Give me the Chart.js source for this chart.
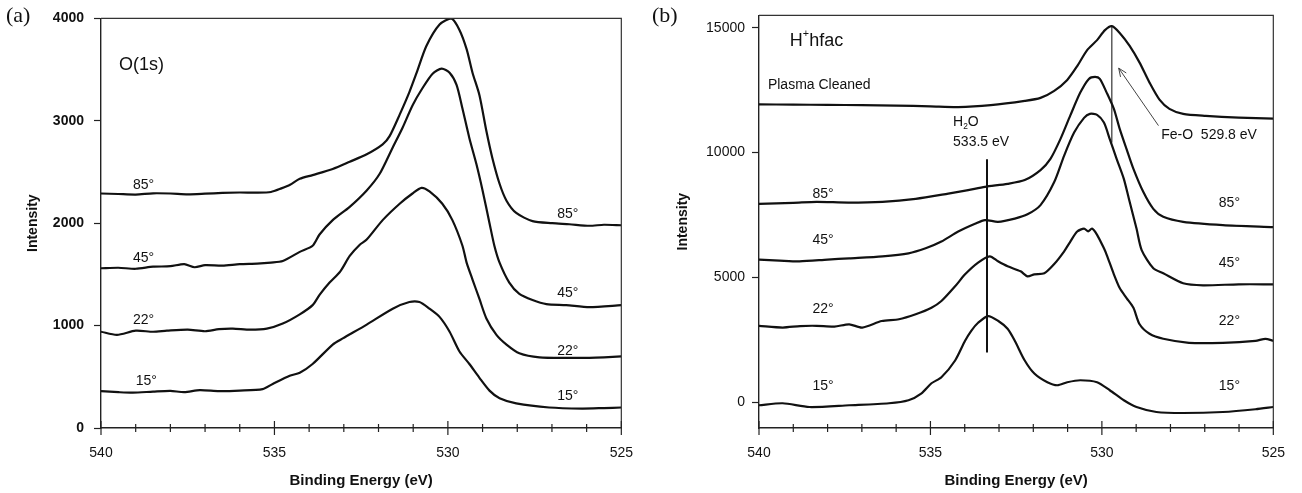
<!DOCTYPE html>
<html>
<head>
<meta charset="utf-8">
<script src="https://cdn.jsdelivr.net/npm/chart.js@4/dist/chart.umd.min.js"></script>
<style>
  html, body { margin: 0; padding: 0; background: #fff; }
  #wrap { position: relative; width: 1302px; height: 493px; }
  canvas { position: absolute; top: 0; }
  #chartA { left: 0; }
  #chartB { left: 650px; }
  .tag { position: absolute; top: 4px; font: 22px "Liberation Serif", "Times New Roman", serif; color: #111; line-height: 1; }
</style>
</head>
<body>
<div id="wrap">
  <canvas id="chartA" width="650" height="493"></canvas>
  <canvas id="chartB" width="652" height="493"></canvas>
  <div class="tag" style="left:6px">(a)</div>
  <div class="tag" style="left:652px">(b)</div>
</div>
<script>
// [binding energy eV, intensity]

// (a) O(1s)
const a85 = [[540,2290],[539.5,2285],[539,2280],[538.5,2292],[538,2290],[537.5,2282],[537,2288],[536.5,2296],[536,2300],[535.5,2298],[535.1,2305],[534.8,2340],[534.55,2375],[534.27,2433],[533.9,2470],[533.32,2530],[532.83,2600],[532.34,2673],[531.88,2770],[531.68,2850],[531.39,3060],[531.11,3280],[530.9,3470],[530.62,3730],[530.24,3940],[529.9,4000],[529.67,3890],[529.46,3700],[529.29,3470],[529.09,3250],[528.89,2900],[528.72,2640],[528.51,2385],[528.31,2220],[528.03,2100],[527.56,2020],[526.99,2000],[526.5,1990],[525.92,1975],[525.5,1985],[525,1980]];
const a45 = [[540,1560],[539.5,1565],[539,1555],[538.5,1575],[538,1580],[537.6,1600],[537.3,1570],[537,1590],[536.5,1585],[536,1600],[535.5,1605],[535.1,1615],[534.76,1630],[534.27,1720],[533.9,1780],[533.7,1890],[533.32,2030],[532.83,2160],[532.34,2320],[531.97,2480],[531.59,2740],[531.31,2930],[531.02,3150],[530.73,3320],[530.44,3460],[530.18,3510],[529.95,3470],[529.75,3350],[529.58,3120],[529.38,2830],[529.18,2580],[529,2320],[528.8,2000],[528.66,1780],[528.51,1615],[528.23,1420],[527.94,1310],[527.56,1250],[527.16,1210],[526.59,1200],[525.92,1180],[525,1200]];
const a22 = [[540,940],[539.54,910],[539,950],[538.5,940],[538.1,950],[537.5,960],[537,945],[536.6,965],[536.2,970],[535.7,960],[535.22,970],[534.76,1020],[534.27,1110],[533.9,1200],[533.7,1300],[533.41,1420],[533.1,1530],[532.83,1680],[532.54,1790],[532.34,1840],[531.88,2030],[531.39,2190],[531.02,2290],[530.76,2345],[530.53,2310],[530.16,2190],[529.87,2030],[529.58,1780],[529.46,1615],[529.29,1450],[529.09,1260],[528.89,1070],[528.6,910],[528.31,815],[527.94,730],[527.36,690],[526.5,685],[525.92,685],[525.5,690],[525,700]];
const a15 = [[540,360],[539.5,350],[539.08,345],[538.5,355],[538,362],[537.6,350],[537.15,370],[536.6,360],[536,365],[535.34,380],[535.05,430],[534.56,510],[534.27,540],[533.9,625],[533.32,815],[533.03,875],[532.34,1010],[531.59,1165],[531.11,1230],[530.82,1230],[530.53,1165],[530.24,1085],[529.95,940],[529.67,750],[529.38,625],[529.09,490],[528.8,365],[528.51,290],[528.03,240],[527.08,200],[526.13,190],[525.5,195],[525,200]];

// (b) H+hfac
const bPlasma = [[540,11930],[539,11920],[538,11910],[537,11900],[536,11880],[535,11850],[534.19,11820],[533.24,11900],[532.25,12070],[531.79,12190],[531.39,12470],[531.01,12910],[530.72,13460],[530.43,14100],[530.14,14500],[529.91,14900],[529.71,15060],[529.48,14790],[529.19,14270],[528.9,13600],[528.61,12800],[528.32,12120],[528.03,11750],[527.63,11550],[526.97,11470],[526.01,11400],[525,11360]];
const b85 = [[540,7950],[539,7990],[538.32,8030],[537.4,8000],[536.4,8030],[535.43,8150],[534.48,8360],[533.9,8500],[533.41,8630],[532.75,8750],[532.25,8900],[531.79,9300],[531.5,9750],[531.21,10540],[530.92,11490],[530.63,12400],[530.38,12950],[530.2,13030],[530.06,12950],[529.86,12400],[529.65,11750],[529.48,10950],[529.28,10140],[529.08,9350],[528.79,8420],[528.5,7750],[528.21,7430],[527.63,7230],[526.47,7100],[525,7020]];
const b45 = [[540,5720],[539.4,5680],[538.82,5650],[538,5720],[537.37,5770],[536.4,5850],[535.64,5970],[535.14,6170],[534.68,6440],[534.19,6840],[533.7,7150],[533.41,7300],[533.03,7230],[532.54,7360],[532.17,7530],[531.79,7900],[531.39,8820],[531.1,9880],[530.81,10800],[530.52,11390],[530.35,11550],[530.14,11510],[529.94,11200],[529.77,10540],[529.57,9750],[529.36,8950],[529.19,8030],[528.99,6960],[528.84,6100],[528.5,5370],[528.21,5170],[527.63,4770],[527.05,4690],[526.01,4730],[525,4730]];
const b22 = [[540,3070],[539.31,3000],[538.8,3060],[538.32,3070],[537.8,3040],[537.37,3130],[536.99,3000],[536.42,3260],[535.92,3330],[535.43,3530],[534.97,3790],[534.68,4060],[534.28,4650],[533.99,5130],[533.61,5600],[533.27,5850],[533.03,5650],[532.75,5450],[532.37,5250],[532.17,5050],[531.97,5130],[531.68,5170],[531.39,5540],[531.1,6050],[530.92,6440],[530.72,6840],[530.52,6960],[530.4,6850],[530.29,6960],[530.14,6710],[529.94,6170],[529.86,5910],[529.65,5130],[529.48,4580],[529.28,4180],[529.08,3790],[528.9,3130],[528.61,2750],[528.21,2550],[527.46,2390],[526.47,2390],[525.52,2470],[525.23,2550],[525,2470]];
const b15 = [[540,-110],[539.31,-30],[538.53,-180],[537.37,-110],[536.21,-30],[535.64,90],[535.26,370],[534.97,770],[534.68,1010],[534.28,1680],[533.99,2470],[533.81,2870],[533.61,3190],[533.32,3460],[533.03,3270],[532.75,2950],[532.54,2470],[532.25,1680],[531.97,1160],[531.59,810],[531.3,690],[531.01,810],[530.63,890],[530.14,810],[529.77,490],[529.36,90],[528.99,-180],[528.41,-380],[527.63,-420],[526.47,-380],[525.52,-270],[525,-180]];

// marker lines in (b)
const waterLine = [[533.35,9730],[533.35,2000]];
const feoLine = [[529.71,15060],[529.71,10400]];

// axes
const energyTicks = [540,539,538,537,536,535,534,533,532,531,530,529,528,527,526,525];
const energyLabels = [540,535,530,525];
const ticksA = [0,1000,2000,3000,4000];
const ticksB = [0,5000,10000,15000];

const FONT = '"Liberation Sans", Arial, Helvetica, sans-serif';
Chart.defaults.font.family = FONT;
Chart.defaults.color = '#111';

function pts(arr) { return arr.map(p => ({x: p[0], y: p[1]})); }

function curve(arr) {
  return { data: pts(arr), borderColor: '#111', borderWidth: 2.2, pointRadius: 0, tension: 0.25, fill: false };
}

// frame, crossing x ticks, arrow and text labels
const decor = {
  id: 'decor',
  afterDatasetsDraw(chart, args, opts) {
    const {ctx, chartArea: a, scales: {x, y}} = chart;
    ctx.save();
    ctx.strokeStyle = '#333';
    ctx.lineWidth = 1.2;
    ctx.beginPath();
    ctx.moveTo(a.left, a.top);
    ctx.lineTo(a.right, a.top);
    ctx.lineTo(a.right, a.bottom);
    ctx.stroke();

    ctx.strokeStyle = '#222';
    x.ticks.forEach(t => {
      const px = x.getPixelForValue(t.value);
      const h = t.value % 5 === 0 ? 7 : 4;
      ctx.beginPath();
      ctx.moveTo(px, a.bottom - h);
      ctx.lineTo(px, a.bottom + h);
      ctx.stroke();
    });

    (opts.arrows || []).forEach(ar => {
      const x1 = x.getPixelForValue(ar.from[0]), y1 = y.getPixelForValue(ar.from[1]);
      const x2 = x.getPixelForValue(ar.to[0]), y2 = y.getPixelForValue(ar.to[1]);
      const ang = Math.atan2(y2 - y1, x2 - x1);
      ctx.strokeStyle = '#444';
      ctx.lineWidth = 1;
      ctx.beginPath();
      ctx.moveTo(x1, y1);
      ctx.lineTo(x2, y2);
      ctx.moveTo(x2 - 9 * Math.cos(ang - 0.4), y2 - 9 * Math.sin(ang - 0.4));
      ctx.lineTo(x2, y2);
      ctx.lineTo(x2 - 9 * Math.cos(ang + 0.4), y2 - 9 * Math.sin(ang + 0.4));
      ctx.stroke();
    });

    ctx.fillStyle = '#111';
    ctx.textBaseline = 'middle';
    ctx.textAlign = 'left';
    (opts.notes || []).forEach(n => {
      const size = n.size || 14;
      let px = x.getPixelForValue(n.x);
      const py = y.getPixelForValue(n.y);
      // '^c' raises and '_c' lowers the next character
      for (let i = 0; i < n.text.length; i++) {
        let ch = n.text[i], dy = 0, s = size;
        if ((ch === '^' || ch === '_') && i + 1 < n.text.length) {
          dy = ch === '^' ? -size * 0.4 : size * 0.3;
          s = size * 0.6;
          ch = n.text[++i];
        }
        ctx.font = (n.bold ? 'bold ' : '') + s + 'px ' + FONT;
        ctx.fillText(ch, px, py + dy);
        px += ctx.measureText(ch).width;
      }
    });
    ctx.restore();
  }
};

function xScale() {
  return {
    type: 'linear', reverse: true, min: 525, max: 540,
    afterBuildTicks: s => { s.ticks = energyTicks.map(v => ({value: v})); },
    afterFit: s => { s.height = 65; },
    grid: { drawOnChartArea: false, drawTicks: false },
    border: { display: true, color: '#222', width: 1.4 },
    ticks: {
      autoSkip: false, maxRotation: 0, padding: 17, font: { size: 14 },
      callback: v => energyLabels.includes(v) ? String(v) : ''
    },
    title: { display: true, text: 'Binding Energy (eV)', font: { size: 15, weight: 'bold' }, padding: { top: 0, bottom: 3 } }
  };
}

function yScale(min, max, tickList, width, pad, bold) {
  return {
    min: min, max: max,
    afterBuildTicks: s => { s.ticks = tickList.map(v => ({value: v})); },
    afterFit: s => { s.width = width; },
    grid: { drawOnChartArea: false, drawTicks: true, tickLength: 7, tickColor: '#222', tickWidth: 1.2 },
    border: { display: true, color: '#222', width: 1.4 },
    ticks: { padding: pad, font: { size: 14, weight: bold ? 'bold' : 'normal' }, callback: v => String(v) },
    title: { display: true, text: 'Intensity', font: { size: 14, weight: 'bold' }, padding: { top: 25, bottom: 0 } }
  };
}

new Chart(document.getElementById('chartA'), {
  type: 'line',
  data: { datasets: [curve(a85), curve(a45), curve(a22), curve(a15)] },
  options: {
    responsive: false, animation: false,
    layout: { padding: { left: 0, right: 28, top: 12, bottom: 0 } },
    scales: { x: xScale(), y: yScale(0, 4000, ticksA, 101, 10, true) },
    plugins: {
      legend: { display: false }, tooltip: { enabled: false },
      decor: {
        notes: [
          { text: 'O(1s)', x: 539.48, y: 3540, size: 18 },
          { text: '85°', x: 539.08, y: 2375 },
          { text: '45°', x: 539.08, y: 1654 },
          { text: '22°', x: 539.08, y: 1058 },
          { text: '15°', x: 539.0, y: 462 },
          { text: '85°', x: 526.85, y: 2087 },
          { text: '45°', x: 526.85, y: 1317 },
          { text: '22°', x: 526.85, y: 750 },
          { text: '15°', x: 526.85, y: 308 }
        ]
      }
    }
  },
  plugins: [decor]
});

const waterSet = { data: pts(waterLine), borderColor: '#111', borderWidth: 2, pointRadius: 0, tension: 0 };
const feoSet = { data: pts(feoLine), borderColor: '#333', borderWidth: 1.2, pointRadius: 0, tension: 0 };

new Chart(document.getElementById('chartB'), {
  type: 'line',
  data: { datasets: [curve(bPlasma), curve(b85), curve(b45), curve(b22), curve(b15), waterSet, feoSet] },
  options: {
    responsive: false, animation: false,
    layout: { padding: { left: 0, right: 24, top: 12, bottom: 0 } },
    scales: { x: xScale(), y: yScale(-1020, 15490, ticksB, 109, 7, false) },
    plugins: {
      legend: { display: false }, tooltip: { enabled: false },
      decor: {
        arrows: [ { from: [528.35, 11080], to: [529.51, 13380] } ],
        notes: [
          { text: 'H^+hfac', x: 539.1, y: 14456, size: 18 },
          { text: 'Plasma Cleaned', x: 539.74, y: 12710, size: 14 },
          { text: 'H_2O', x: 534.34, y: 11200, size: 14 },
          { text: '533.5 eV', x: 534.34, y: 10400, size: 14 },
          { text: 'Fe-O  529.8 eV', x: 528.27, y: 10690, size: 14 },
          { text: '85°', x: 538.44, y: 8345 },
          { text: '45°', x: 538.44, y: 6480 },
          { text: '22°', x: 538.44, y: 3740 },
          { text: '15°', x: 538.44, y: 650 },
          { text: '85°', x: 526.59, y: 7990 },
          { text: '45°', x: 526.59, y: 5560 },
          { text: '22°', x: 526.59, y: 3270 },
          { text: '15°', x: 526.59, y: 650 }
        ]
      }
    }
  },
  plugins: [decor]
});
</script>
</body>
</html>
